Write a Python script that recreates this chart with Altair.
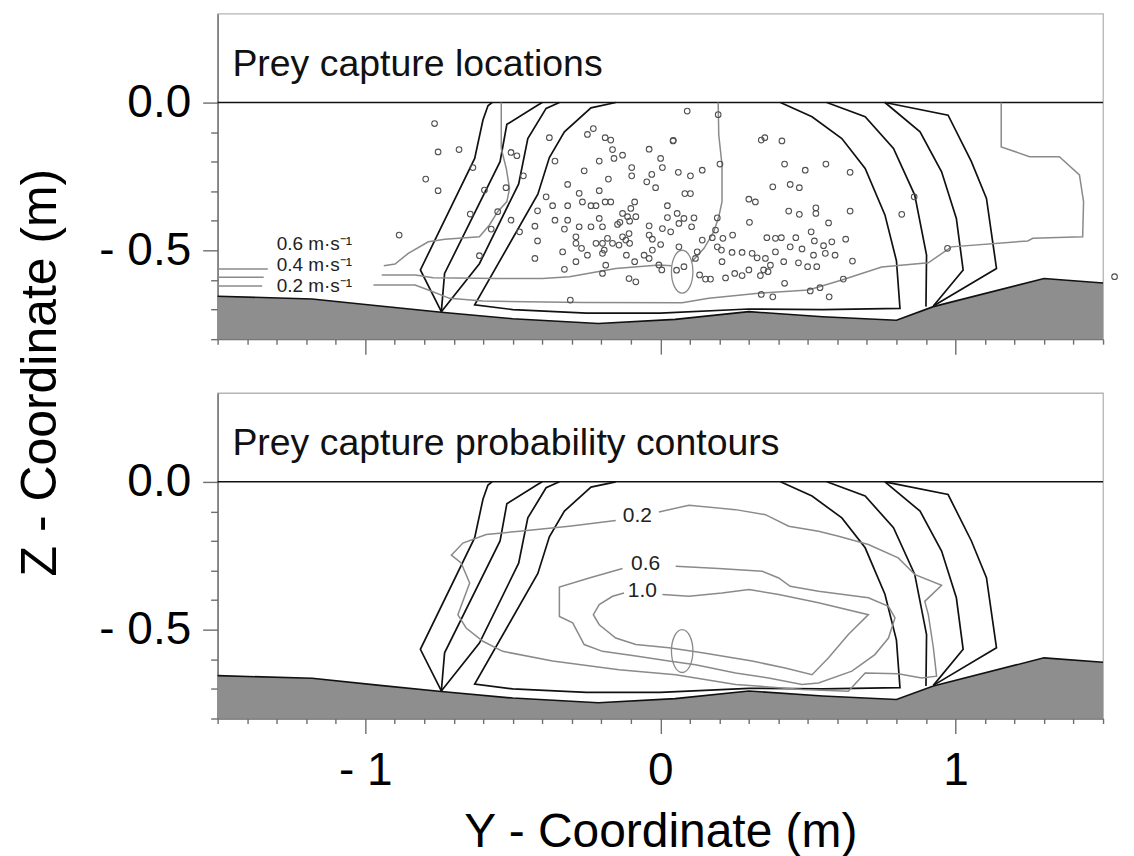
import altair as alt
import pandas as pd

# ---------------- data (x = Y-coordinate, z = Z-coordinate, metres) ----------------
SUBSTRATE = [(-1.5, -0.655), (-1.18, -0.664), (-0.95, -0.688), (-0.742, -0.709), (-0.5, -0.731),
             (-0.21, -0.747), (0.05, -0.733), (0.30, -0.707), (0.55, -0.724), (0.80, -0.736),
             (0.925, -0.690), (1.30, -0.595), (1.5, -0.610)]
SURFACE = [(-1.5, 0.0), (1.5, 0.0)]

ENV_A_LEFT = [(-0.57, 0.0), (-0.584, -0.011), (-0.601, -0.059), (-0.629, -0.189), (-0.813, -0.566), (-0.742, -0.707)]
ENV_B_LEFT = [(-0.40, 0.0), (-0.416, -0.009), (-0.520, -0.074), (-0.543, -0.200), (-0.731, -0.578), (-0.742, -0.707)]
ENV_C_LEFT = [(-0.342, 0.0), (-0.387, -0.02), (-0.449, -0.122), (-0.480, -0.275), (-0.613, -0.545), (-0.742, -0.707)]
ENV_D = [(-0.151, 0.0), (-0.235, -0.018), (-0.325, -0.099), (-0.376, -0.186), (-0.415, -0.31), (-0.629, -0.684),
         (-0.5, -0.700), (-0.25, -0.712), (0.0, -0.712), (0.3, -0.698), (0.55, -0.700), (0.812, -0.696),
         (0.80, -0.535), (0.761, -0.380), (0.694, -0.223), (0.615, -0.122), (0.514, -0.048), (0.407, 0.0)]
ENV_C_RIGHT = [(0.564, 0.0), (0.694, -0.048), (0.79, -0.155), (0.862, -0.313), (0.902, -0.516), (0.90, -0.69)]
ENV_B_RIGHT = [(0.761, 0.0), (0.88, -0.099), (0.953, -0.234), (1.003, -0.392), (1.026, -0.566), (0.925, -0.688)]
ENV_A_RIGHT = [(0.761, 0.0), (0.975, -0.043), (1.054, -0.2), (1.105, -0.324), (1.139, -0.561), (0.925, -0.688)]

VEL_06_LEFT = [(-1.5, -0.563), (-1.33, -0.563)]
VEL_06_RIGHT = [(-0.937, -0.552), (-0.899, -0.546), (-0.854, -0.510), (-0.786, -0.471), (-0.73, -0.462),
                (-0.613, -0.454), (-0.579, -0.414), (-0.551, -0.369), (-0.52, -0.335), (-0.511, -0.291),
                (-0.522, -0.223), (-0.539, -0.155), (-0.539, 0.0)]
VEL_04_LEFT = [(-1.5, -0.591), (-1.344, -0.591)]
VEL_04_RIGHT = [(-0.944, -0.583), (-0.83, -0.583), (-0.77, -0.592), (-0.545, -0.595), (-0.399, -0.595),
                (-0.308, -0.589), (-0.151, -0.561), (-0.004, -0.549), (0.038, -0.552)]
VEL_04_UP = [(0.105, -0.54), (0.148, -0.493), (0.181, -0.437), (0.198, -0.386), (0.209, -0.335),
             (0.209, -0.211), (0.198, -0.11), (0.196, 0.0)]
VEL_02_LEFT = [(-1.5, -0.620), (-1.349, -0.620)]
VEL_02_RIGHT = [(-0.972, -0.617), (-0.831, -0.617), (-0.786, -0.634), (-0.714, -0.662), (-0.601, -0.671),
                (-0.264, -0.676), (0.074, -0.677), (0.164, -0.662), (0.333, -0.645), (0.502, -0.634),
                (0.615, -0.600), (0.75, -0.556), (0.908, -0.542), (0.986, -0.488), (1.245, -0.468),
                (1.262, -0.459), (1.431, -0.454), (1.434, -0.335), (1.42, -0.245), (1.352, -0.183),
                (1.251, -0.183), (1.155, -0.150), (1.155, 0.0)]
VEL_LABELS = ["0.6 m·s⁻¹", "0.4 m·s⁻¹", "0.2 m·s⁻¹"]
VEL_LABEL_X = [-1.30, -1.30, -1.30]
VEL_LABEL_Z = [-0.477, -0.551, -0.620]

PROB_10 = [(0.007, -0.381), (0.097, -0.387), (0.209, -0.376), (0.300, -0.364), (0.401, -0.381), (0.536, -0.409),
           (0.705, -0.449), (0.637, -0.516), (0.570, -0.595), (0.514, -0.652), (0.423, -0.629), (0.311, -0.606),
           (0.142, -0.578), (0.029, -0.561), (-0.083, -0.550), (-0.151, -0.528), (-0.207, -0.483),
           (-0.227, -0.449), (-0.207, -0.415), (-0.162, -0.387), (-0.123, -0.376)]
PROB_06 = [(0.052, -0.285), (0.198, -0.293), (0.345, -0.302), (0.401, -0.325), (0.440, -0.353), (0.536, -0.370),
           (0.705, -0.392), (0.773, -0.421), (0.795, -0.460), (0.773, -0.528), (0.727, -0.584), (0.649, -0.640),
           (0.536, -0.680), (0.480, -0.685), (0.367, -0.663), (0.255, -0.646), (0.119, -0.618), (0.029, -0.606),
           (-0.083, -0.589), (-0.196, -0.573), (-0.258, -0.550), (-0.297, -0.477), (-0.342, -0.455),
           (-0.342, -0.356), (-0.241, -0.325), (-0.128, -0.293)]
PROB_02 = [(-0.005, -0.102), (0.097, -0.079), (0.255, -0.094), (0.356, -0.111), (0.435, -0.150), (0.536, -0.167),
           (0.604, -0.184), (0.705, -0.212), (0.806, -0.257), (0.863, -0.314), (0.953, -0.350), (0.896, -0.404),
           (0.908, -0.449), (0.925, -0.560), (0.936, -0.657), (0.885, -0.663), (0.806, -0.649), (0.694, -0.646),
           (0.637, -0.708), (0.480, -0.702), (0.255, -0.685), (0.052, -0.652), (-0.140, -0.635), (-0.365, -0.606),
           (-0.534, -0.573), (-0.601, -0.539), (-0.658, -0.494), (-0.686, -0.449), (-0.646, -0.342),
           (-0.675, -0.274), (-0.708, -0.248), (-0.669, -0.207), (-0.590, -0.178), (-0.477, -0.167),
           (-0.309, -0.150), (-0.151, -0.131)]
PROB_LABELS = ["0.2", "0.6", "1.0"]
PROB_LABEL_X = [-0.078, -0.050, -0.061]
PROB_LABEL_Z = [-0.117, -0.278, -0.370]

FISH_X = [0.074]
FISH_Z = [-0.572]

PREY_POINTS = [
    (-0.765, -0.071), (-0.753, -0.167), (-0.682, -0.159), (-0.795, -0.259), (-0.753, -0.298), (-0.885, -0.448),
    (-0.635, -0.220), (-0.596, -0.296), (-0.644, -0.377), (-0.613, -0.518), (-0.573, -0.428), (-0.551, -0.369),
    (-0.506, -0.169), (-0.486, -0.180), (-0.523, -0.288), (-0.464, -0.248), (-0.506, -0.398), (-0.416, -0.366),
    (-0.477, -0.437), (-0.425, -0.418), (-0.416, -0.468), (-0.425, -0.527), (-0.376, -0.119), (-0.357, -0.198),
    (-0.387, -0.319), (-0.365, -0.349), (-0.314, -0.277), (-0.314, -0.349), (-0.275, -0.307), (-0.264, -0.336),
    (-0.357, -0.398), (-0.325, -0.428), (-0.314, -0.398), (-0.275, -0.420), (-0.235, -0.420), (-0.235, -0.349),
    (-0.218, -0.349), (-0.187, -0.336), (-0.168, -0.336), (-0.207, -0.298), (-0.176, -0.259), (-0.258, -0.231),
    (-0.207, -0.198), (-0.247, -0.108), (-0.227, -0.088), (-0.187, -0.119), (-0.168, -0.127), (-0.162, -0.159),
    (-0.157, -0.189), (-0.128, -0.178), (-0.097, -0.220), (-0.097, -0.248), (-0.038, -0.158), (0.001, -0.189),
    (0.007, -0.220), (-0.029, -0.243), (-0.046, -0.268), (-0.016, -0.288), (0.061, -0.236), (0.044, -0.128),
    (-0.087, -0.336), (-0.100, -0.358), (-0.128, -0.375), (-0.111, -0.386), (-0.083, -0.386), (-0.104, -0.401),
    (-0.137, -0.405), (-0.207, -0.392), (-0.196, -0.420), (-0.145, -0.412), (0.024, -0.349), (0.024, -0.389),
    (0.057, -0.375), (0.063, -0.409), (0.007, -0.426), (0.035, -0.437), (-0.038, -0.417), (-0.038, -0.448),
    (-0.027, -0.462), (0.001, -0.480), (-0.027, -0.499), (0.063, -0.488), (-0.286, -0.454), (-0.286, -0.476),
    (-0.267, -0.493), (-0.247, -0.516), (-0.286, -0.538), (-0.218, -0.476), (-0.196, -0.476), (-0.179, -0.459),
    (-0.162, -0.476), (-0.140, -0.482), (-0.128, -0.454), (-0.106, -0.443), (-0.117, -0.465), (-0.104, -0.476),
    (-0.190, -0.499), (-0.196, -0.510), (-0.185, -0.550), (-0.196, -0.578), (-0.115, -0.516), (-0.087, -0.538),
    (-0.055, -0.516), (-0.038, -0.527), (-0.005, -0.549), (0.005, -0.566), (-0.325, -0.564), (-0.305, -0.668),
    (-0.106, -0.595), (-0.083, -0.606), (-0.331, -0.505),
    (0.091, -0.029), (0.196, -0.041), (0.043, -0.130), (0.102, -0.248), (0.142, -0.229), (0.202, -0.208),
    (0.083, -0.308), (0.102, -0.308), (0.080, -0.392), (0.114, -0.390), (0.106, -0.420), (0.193, -0.390),
    (0.187, -0.431), (0.176, -0.457), (0.142, -0.465), (0.125, -0.505), (0.119, -0.527), (0.193, -0.488),
    (0.207, -0.499), (0.212, -0.459), (0.245, -0.448), (0.209, -0.538), (0.243, -0.507), (0.277, -0.507),
    (0.311, -0.510), (0.328, -0.525), (0.356, -0.527), (0.373, -0.550), (0.350, -0.566), (0.390, -0.505),
    (0.418, -0.538), (0.361, -0.457), (0.390, -0.459), (0.410, -0.457), (0.459, -0.457), (0.440, -0.488),
    (0.480, -0.495), (0.468, -0.542), (0.499, -0.555), (0.530, -0.555), (0.519, -0.516), (0.522, -0.468),
    (0.511, -0.437), (0.553, -0.484), (0.581, -0.471), (0.559, -0.510), (0.592, -0.516), (0.628, -0.462),
    (0.651, -0.536), (0.570, -0.407), (0.527, -0.356), (0.527, -0.375), (0.471, -0.378), (0.435, -0.367),
    (0.643, -0.367), (0.300, -0.327), (0.322, -0.336), (0.302, -0.405), (0.381, -0.285), (0.440, -0.277),
    (0.471, -0.288), (0.421, -0.208), (0.491, -0.229), (0.561, -0.208), (0.643, -0.236), (0.342, -0.127),
    (0.354, -0.119), (0.412, -0.130), (0.818, -0.378), (0.860, -0.319), (0.133, -0.583), (0.153, -0.597),
    (0.170, -0.597), (0.221, -0.593), (0.252, -0.578), (0.277, -0.585), (0.300, -0.566), (0.339, -0.585),
    (0.365, -0.572), (0.421, -0.611), (0.342, -0.649), (0.381, -0.657), (0.508, -0.637), (0.541, -0.626),
    (0.572, -0.657), (0.620, -0.597), (0.055, -0.567), (0.080, -0.555), (0.973, -0.493), (1.539, -0.589),
]

PANEL_TITLES = ["Prey capture locations", "Prey capture probability contours"]
TITLE_X = -1.45
TITLE_Z = 0.09

X_TICKS = [-1.5, -1.4, -1.3, -1.2, -1.1, -1.0, -0.9, -0.8, -0.7, -0.6, -0.5, -0.4, -0.3, -0.2, -0.1, 0.0,
           0.1, 0.2, 0.3, 0.4, 0.5, 0.6, 0.7, 0.8, 0.9, 1.0, 1.1, 1.2, 1.3, 1.4, 1.5]
Y_TICKS = [-0.8, -0.7, -0.6, -0.5, -0.4, -0.3, -0.2, -0.1, 0.0]

# ---------------- helpers ----------------
FONT = "Liberation Sans"
W, H = 887, 326


def paths_frame(paths):
    rows = []
    for name, pts in paths.items():
        for i, (x, z) in enumerate(pts):
            rows.append({"line": name, "order": i, "x": x, "z": z})
    return pd.DataFrame(rows)


def pts_frame(pts):
    return pd.DataFrame({"x": [p[0] for p in pts], "z": [p[1] for p in pts]})


ENVELOPES = {"A_L": ENV_A_LEFT, "B_L": ENV_B_LEFT, "C_L": ENV_C_LEFT, "D": ENV_D,
             "C_R": ENV_C_RIGHT, "B_R": ENV_B_RIGHT, "A_R": ENV_A_RIGHT}
VELOCITY = {"v06l": VEL_06_LEFT, "v06r": VEL_06_RIGHT, "v04l": VEL_04_LEFT, "v04r": VEL_04_RIGHT,
            "v04u": VEL_04_UP, "v02l": VEL_02_LEFT, "v02r": VEL_02_RIGHT}
PROB = {"p10": PROB_10, "p06": PROB_06, "p02": PROB_02}

ELLIPSE_PATH = "M0,-1 A0.5,1 0 1,1 0,1 A0.5,1 0 1,1 0,-1 Z"


def x_encoding(bottom):
    axis = alt.Axis(
        values=X_TICKS,
        tickSize={"condition": {"test": "datum.value == -1 || datum.value == 0 || datum.value == 1",
                                "value": 15}, "value": 5},
        labels=bottom,
        labelExpr="datum.value == -1 ? '- 1' : (datum.value == 0 ? '0' : (datum.value == 1 ? '1' : ''))",
        labelFontSize=46, labelFont=FONT, labelColor="#000", labelPadding=15,
        labelOverlap=False, labelFlush=False, labelBaseline="top",
        grid=False,
        title="Y - Coordinate (m)" if bottom else None,
        titleFontSize=48, titleFont=FONT, titleFontWeight="normal", titleColor="#000",
        titleY=128, titleBaseline="alphabetic",
    )
    return alt.X("x:Q", scale=alt.Scale(domain=[-1.5, 1.5], nice=False, zero=False), axis=axis)


def y_encoding(top):
    if top:
        kw = dict(title="Z - Coordinate (m)", titleX=-162, titleY=359, titleAngle=270,
                  titleBaseline="alphabetic", titleAlign="center")
    else:
        kw = dict(title=None)
    axis = alt.Axis(
        values=Y_TICKS,
        tickSize={"condition": {"test": "datum.value == 0 || datum.value == -0.5", "value": 15}, "value": 7},
        labelExpr="datum.value == 0 ? '0.0' : (datum.value == -0.5 ? '- 0.5' : '')",
        labelFontSize=46, labelFont=FONT, labelColor="#000", labelPadding=12,
        labelOverlap=False, labelFlush=False,
        grid=False,
        titleFontSize=50, titleFont=FONT, titleFontWeight="normal", titleColor="#000",
        **kw,
    )
    return alt.Y("z:Q", scale=alt.Scale(domain=[-0.8, 0.3], nice=False, zero=False), axis=axis)


def common_layers():
    area = alt.Chart(pts_frame(SUBSTRATE)).mark_area(color="#8e8e8e", opacity=1).encode(y2=alt.datum(-0.8))
    sub_line = alt.Chart(pts_frame(SUBSTRATE)).mark_line(color="#111", strokeWidth=1.6)
    surface = alt.Chart(pts_frame(SURFACE)).mark_line(color="#111", strokeWidth=1.6)
    env = alt.Chart(paths_frame(ENVELOPES)).mark_line(color="#111", strokeWidth=1.7).encode(
        detail="line:N", order="order:Q")
    fish = alt.Chart(pd.DataFrame({"x": FISH_X, "z": FISH_Z})).mark_point(
        shape=ELLIPSE_PATH, size=1849, filled=False, color="#8a8a8a", strokeWidth=1.3, opacity=1)
    return [area, sub_line, surface, env], fish


def title_layer(text):
    return alt.Chart(pd.DataFrame({"x": [TITLE_X], "z": [TITLE_Z], "t": [text]})).mark_text(
        align="left", baseline="alphabetic", font=FONT, fontSize=37.5, color="#111").encode(text="t:N")


# ---------------- top panel ----------------
base_top, fish_top = common_layers()
vel = alt.Chart(paths_frame(VELOCITY)).mark_line(color="#8a8a8a", strokeWidth=1.5).encode(
    detail="line:N", order="order:Q")
prey = alt.Chart(pts_frame(PREY_POINTS)).mark_point(
    shape="circle", size=32, filled=False, color="#505050", strokeWidth=1.1, opacity=1)
vel_labels = alt.Chart(pd.DataFrame({"x": VEL_LABEL_X, "z": VEL_LABEL_Z, "t": VEL_LABELS})).mark_text(
    align="left", baseline="middle", font=FONT, fontSize=19, color="#222").encode(text="t:N")

top = alt.layer(*base_top, vel, fish_top, prey, vel_labels, title_layer(PANEL_TITLES[0])).encode(
    x=x_encoding(False), y=y_encoding(True)).properties(width=W, height=H)

# ---------------- bottom panel ----------------
base_bot, fish_bot = common_layers()
prob = alt.Chart(paths_frame(PROB)).mark_line(color="#8a8a8a", strokeWidth=1.5).encode(
    detail="line:N", order="order:Q")
prob_labels = alt.Chart(pd.DataFrame({"x": PROB_LABEL_X, "z": PROB_LABEL_Z, "t": PROB_LABELS})).mark_text(
    align="center", baseline="middle", font=FONT, fontSize=21, color="#222").encode(text="t:N")

bottom = alt.layer(*base_bot, prob, fish_bot, prob_labels, title_layer(PANEL_TITLES[1])).encode(
    x=x_encoding(True), y=y_encoding(False)).properties(width=W, height=H)

chart = alt.vconcat(top, bottom, spacing=54, bounds="flush").properties(
    padding={"left": 7, "top": 4, "right": 5, "bottom": 0}
).configure_view(stroke="#b4b4b4", strokeWidth=1.3).configure_axis(
    domainColor="#6e6e6e", tickColor="#6e6e6e", domainWidth=1.4, tickWidth=1.4
)

chart.save("out.html", embed_options={"renderer": "svg", "actions": False})
